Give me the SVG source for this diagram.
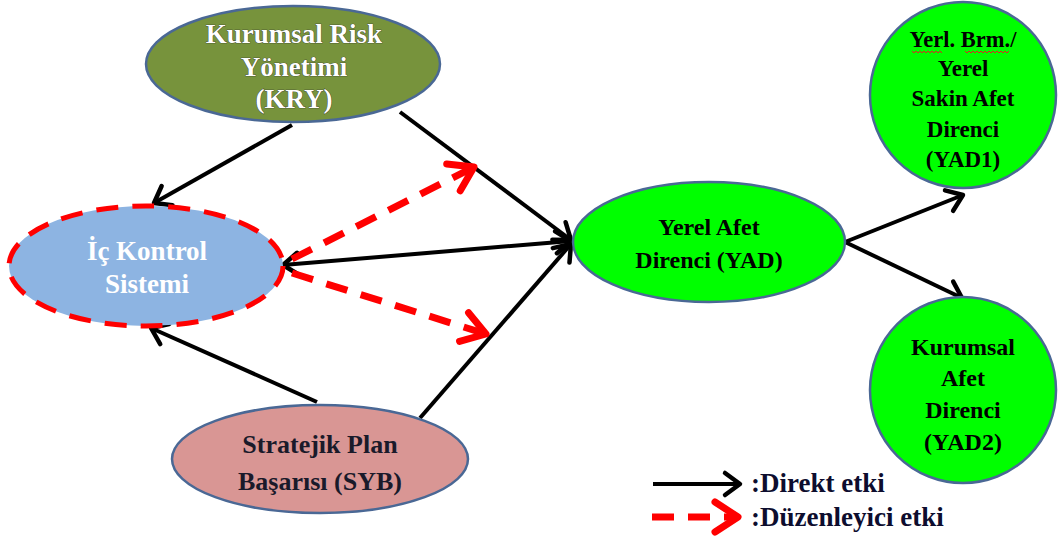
<svg xmlns="http://www.w3.org/2000/svg" width="1060" height="537" viewBox="0 0 1060 537">
<style>
.t{font-family:"Liberation Serif","Times New Roman",serif;font-weight:bold;text-anchor:middle}
.w{fill:#fff;stroke:#2b2b2b;stroke-width:0.7;paint-order:stroke}
.k{fill:#000}
.d{fill:#1a1a2a}
.lg{font-family:"Liberation Serif","Times New Roman",serif;font-weight:bold;font-size:27px;fill:#0d0d2e}
.node{stroke:#4a6895;stroke-width:2.5}
.c{fill:none;stroke:#000;stroke-width:4}
.r{fill:none;stroke:#ff0000;stroke-width:7;stroke-dasharray:22 14}
</style>
<defs>
<marker id="ah" markerUnits="userSpaceOnUse" markerWidth="30" markerHeight="30" refX="22" refY="15" orient="auto-start-reverse" overflow="visible">
<path d="M7,4 L22,15 L7,26" fill="none" stroke="#000" stroke-width="4.5" stroke-linecap="round" stroke-linejoin="round"/>
</marker>
<marker id="ahr" markerUnits="userSpaceOnUse" markerWidth="40" markerHeight="40" refX="28" refY="18" orient="auto" overflow="visible">
<path d="M5,3 L28,18 L5,33" fill="none" stroke="#ff0000" stroke-width="7" stroke-linecap="round" stroke-linejoin="round"/>
</marker>
</defs>

<g id="connectors">
<path class="c" d="M292,125 L154,203" marker-end="url(#ah)"/>
<path class="c" d="M400,112 L571,240" marker-end="url(#ah)"/>
<path class="c" d="M283,265 L571,241" marker-start="url(#ah)" marker-end="url(#ah)"/>
<path class="c" d="M317,402 L151,328" marker-end="url(#ah)"/>
<path class="c" d="M420,418 L571,244" marker-end="url(#ah)"/>
<path class="c" d="M845,242 L963,195" marker-end="url(#ah)"/>
<path class="c" d="M845,242 L962,298" marker-end="url(#ah)"/>
<path class="r" d="M292,259 L474,167" marker-end="url(#ahr)"/>
<path class="r" d="M292,273 L486,334" marker-end="url(#ahr)"/>
</g>

<g id="KRY">
<ellipse class="node" cx="293" cy="64" rx="147" ry="58" fill="#77933C"/>
<text class="t w" font-size="27" x="294" y="43">Kurumsal Risk</text>
<text class="t w" font-size="27" x="294" y="76">Yönetimi</text>
<text class="t w" font-size="27" x="294" y="108">(KRY)</text>
</g>

<g id="IC">
<ellipse cx="146" cy="266" rx="137" ry="60" fill="#8DB4E2" stroke="#ff0000" stroke-width="5" stroke-dasharray="22 14"/>
<text class="t" fill="#fff" font-size="27" x="147" y="260">İç Kontrol</text>
<text class="t" fill="#fff" font-size="27" x="147" y="293">Sistemi</text>
</g>

<g id="YAD">
<ellipse class="node" cx="709" cy="242" rx="136" ry="60" fill="#00FF00"/>
<text class="t k" font-size="24" x="709" y="235">Yerel Afet</text>
<text class="t k" font-size="24" x="709" y="268">Direnci (YAD)</text>
</g>

<g id="YAD1">
<circle class="node" cx="963" cy="95" r="93" fill="#00FF00"/>
<text class="t k" font-size="22.5" x="963" y="47">Yerl. Brm./</text>
<path d="M912,51 l2,2 l2,-2 l2,2 l2,-2 l2,2 l2,-2 l2,2 l2,-2 l2,2 l2,-2 l2,2 l2,-2 l2,2 l2,-2 l2,2 M965,51 l2,2 l2,-2 l2,2 l2,-2 l2,2 l2,-2 l2,2 l2,-2 l2,2 l2,-2 l2,2 l2,-2 l2,2 l2,-2 l2,2 l2,-2 l2,2 l2,-2 l2,2 l2,-2 l2,2 l2,-2" fill="none" stroke="#e02020" stroke-width="1"/>
<text class="t k" font-size="23" x="963" y="76">Yerel</text>
<text class="t k" font-size="23" x="963" y="106">Sakin Afet</text>
<text class="t k" font-size="23" x="963" y="137">Direnci</text>
<text class="t k" font-size="23" x="963" y="167">(YAD1)</text>
</g>

<g id="YAD2">
<circle class="node" cx="963" cy="390" r="93" fill="#00FF00"/>
<text class="t k" font-size="24" x="963" y="355">Kurumsal</text>
<text class="t k" font-size="24" x="963" y="386">Afet</text>
<text class="t k" font-size="24" x="963" y="418">Direnci</text>
<text class="t k" font-size="24" x="963" y="450">(YAD2)</text>
</g>

<g id="SYB">
<ellipse class="node" cx="320" cy="459" rx="148" ry="54" fill="#D99694"/>
<text class="t d" font-size="26" x="320" y="453">Stratejik Plan</text>
<text class="t d" font-size="26" x="320" y="490">Başarısı (SYB)</text>
</g>

<g id="legend">
<path class="c" d="M653,484 L740,484" marker-end="url(#ah)"/>
<path class="r" d="M652,517 L738,517" marker-end="url(#ahr)"/>
<text class="lg" x="751" y="492">:Direkt etki</text>
<text class="lg" x="751" y="526">:Düzenleyici etki</text>
</g>
</svg>
